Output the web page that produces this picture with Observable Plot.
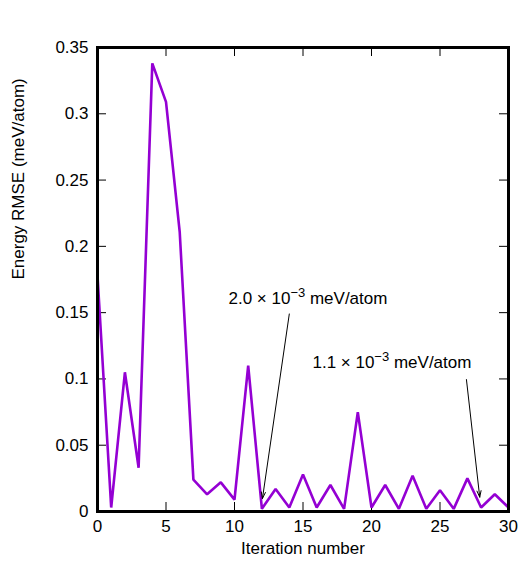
<!DOCTYPE html>
<html><head><meta charset="utf-8">
<script src="https://cdn.jsdelivr.net/npm/d3@7"></script>
<script src="https://cdn.jsdelivr.net/npm/@observablehq/plot@0.6"></script>
<style>
body{margin:0;background:#fff}
#chart svg{font-family:"Liberation Sans",Arial,Helvetica,sans-serif}
</style>
</head><body><div id="chart"></div>
<script>
const iterations = [0,1,2,3,4,5,6,7,8,9,10,11,12,13,14,15,16,17,18,19,20,21,22,23,24,25,26,27,28,29,30];
const rmse = [0.178,0.003,0.105,0.033,0.338,0.309,0.211,0.024,0.013,0.022,0.009,0.110,0.002,0.017,0.003,0.028,0.003,0.020,0.002,0.075,0.003,0.020,0.002,0.027,0.002,0.016,0.002,0.025,0.003,0.013,0.003];

const xTicks = [0,5,10,15,20,25,30];
const xTickLabels = ["0","5","10","15","20","25","30"];
const yTicks = [0,0.05,0.1,0.15,0.2,0.25,0.3,0.35];
const yTickLabels = ["0","0.05","0.1","0.15","0.2","0.25","0.3","0.35"];

const xLabel = "Iteration number";
const yLabel = "Energy RMSE (meV/atom)";

const annLabel = ["2.0 × 10|−3| meV/atom", "1.1 × 10|−3| meV/atom"];
const annTextX = [9.56, 15.69];
const annTextY = [0.161, 0.112];
const arrowX1 = [14.0, 26.93];
const arrowY1 = [0.149, 0.0995];
const arrowX2 = [12.04, 27.9];
const arrowY2 = [0.0098, 0.0108];

const W = 520, H = 569, mL = 97, mR = 12, mT = 47, mB = 58;
const pw = W - mL - mR, ph = H - mT - mB;
const tickLen = 9;

const chart = Plot.plot({
  width: W, height: H,
  marginLeft: mL, marginRight: mR, marginTop: mT, marginBottom: mB,
  style: {fontFamily: '"Liberation Sans",Arial,Helvetica,sans-serif', fontSize: "17px", color: "#000", background: "#fff"},
  x: {domain: [0, 30]},
  y: {domain: [0, 0.35]},
  marks: [
    Plot.axisX(xTicks, {tickSize: 0, tickPadding: 8, fontSize: 17, label: null, fill: "#000",
      tickFormat: d => xTickLabels[xTicks.indexOf(d)]}),
    Plot.axisY(yTicks, {tickSize: 0, tickPadding: 9, fontSize: 17, label: null, fill: "#000",
      tickFormat: d => yTickLabels[yTicks.indexOf(d)]}),
    Plot.tickY(yTicks, {y: d => d, insetRight: pw - tickLen, stroke: "#000", strokeWidth: 1}),
    Plot.tickY(yTicks, {y: d => d, insetLeft: pw - tickLen, stroke: "#000", strokeWidth: 1}),
    Plot.tickX(xTicks, {x: d => d, insetTop: ph - tickLen, stroke: "#000", strokeWidth: 1}),
    Plot.tickX(xTicks, {x: d => d, insetBottom: ph - tickLen, stroke: "#000", strokeWidth: 1}),
    Plot.line(iterations, {x: d => d, y: (d, i) => rmse[i], stroke: "#9400d3", strokeWidth: 2.6, strokeLinejoin: "miter"}),
    Plot.arrow(annLabel, {x1: (d, i) => arrowX1[i], y1: (d, i) => arrowY1[i], x2: (d, i) => arrowX2[i], y2: (d, i) => arrowY2[i],
      stroke: "#000", strokeWidth: 1, headLength: 10, headAngle: 36}),
    Plot.text(annLabel, {x: (d, i) => annTextX[i], y: (d, i) => annTextY[i], text: d => d, textAnchor: "start", fontSize: 17, fill: "#000"}),
    Plot.text([xLabel], {frameAnchor: "bottom", dy: 42, fontSize: 17, fill: "#000"}),
    Plot.text([yLabel], {frameAnchor: "left", dx: -79, rotate: -90, fontSize: 17, fill: "#000"}),
    Plot.frame({stroke: "#000", strokeWidth: 3})
  ]
});

// superscripts for the annotation exponents
chart.querySelectorAll("text").forEach(t => {
  const s = t.textContent;
  if (!s.includes("|")) return;
  const parts = s.split("|");
  while (t.firstChild) t.removeChild(t.firstChild);
  const ns = "http://www.w3.org/2000/svg";
  const a = document.createElementNS(ns, "tspan"); a.textContent = parts[0]; t.appendChild(a);
  const b = document.createElementNS(ns, "tspan"); b.textContent = parts[1];
  b.setAttribute("dy", "-7"); b.setAttribute("font-size", "13"); t.appendChild(b);
  const c = document.createElementNS(ns, "tspan"); c.textContent = parts[2];
  c.setAttribute("dy", "7"); t.appendChild(c);
});

document.getElementById("chart").appendChild(chart);
</script>
</body></html>
